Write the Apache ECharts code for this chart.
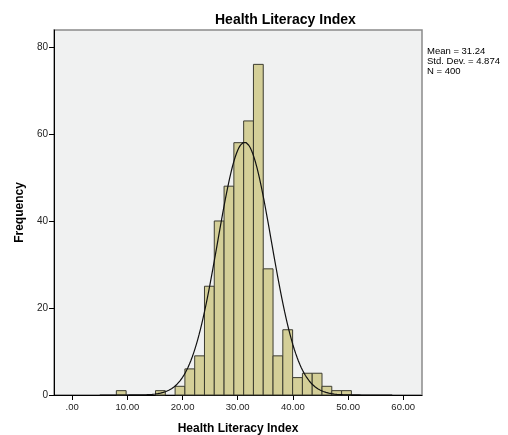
<!DOCTYPE html>
<html><head><meta charset="utf-8">
<script src="https://cdn.jsdelivr.net/npm/echarts@6/dist/echarts.min.js"></script>
<style>html,body{margin:0;padding:0;background:#fff}#c{width:508px;height:435px}</style>
</head><body><div id="c"></div>
<script>
// Histogram bins (lower edge, upper edge) and counts
const binStart = 8.0;
const binWidth = 1.775;
const counts = [1,0,0,0,1,0,2,6,9,25,40,48,58,63,76,29,9,15,4,5,5,2,1,1];
// Stats shown in legend
const mean = 31.24, sd = 4.874, n = 400;
const xTicks = [0,10,20,30,40,50,60];
const yTicks = [0,20,40,60,80];
const titleText = 'Health Literacy Index';
const xTitle = 'Health Literacy Index';
const yTitle = 'Frequency';
const statLines = ['Mean = 31.24','Std. Dev. = 4.874','N = 400'];

const bars = counts.map((c,i)=>[binStart+i*binWidth, binStart+(i+1)*binWidth, c]);
const curve = [];
for (let x=5; x<=58; x+=0.25) {
  const z=(x-mean)/sd;
  curve.push([x, n*binWidth*Math.exp(-0.5*z*z)/(sd*Math.sqrt(2*Math.PI))]);
}
const chart = echarts.init(document.getElementById('c'), null, {renderer:'canvas'});
const font = 'Arial, "Liberation Sans", sans-serif';
chart.setOption({
  animation:false,
  backgroundColor:'#fff',
  title:{text:titleText,left:210,top:8,textStyle:{fontFamily:font,fontSize:14,fontWeight:'bold',color:'#000'}},
  graphic:[
    {type:'text',left:427,top:46,style:{text:statLines.join('\n'),fontFamily:font,fontSize:9.5,lineHeight:10,fill:'#000'}}
  ],
  grid:{left:54,top:30,right:86,bottom:40,containLabel:false,outerBoundsMode:'none',show:true,backgroundColor:'#f0f1f1',borderColor:'#8a8a8a',borderWidth:1.5},
  xAxis:{type:'value',min:-3.3,max:63.4,
    name:xTitle,nameLocation:'middle',nameGap:28,
    nameTextStyle:{fontFamily:font,fontSize:12,fontWeight:'bold',color:'#000'},
    axisLine:{show:true,onZero:false,lineStyle:{color:'#000',width:1}},
    axisTick:{show:true,customValues:xTicks,length:5,lineStyle:{color:'#000'}},
    axisLabel:{customValues:xTicks,fontFamily:font,fontSize:9.5,color:'#222',margin:7,
      formatter:v=>v===0?'.00':v.toFixed(2)},
    splitLine:{show:false}},
  yAxis:{type:'value',min:0,max:83.9,
    name:yTitle,nameLocation:'middle',nameGap:25,nameRotate:90,
    nameTextStyle:{fontFamily:font,fontSize:12,fontWeight:'bold',color:'#000'},
    axisLine:{show:true,onZero:false,lineStyle:{color:'#000',width:1}},
    axisTick:{show:true,customValues:yTicks,length:5,lineStyle:{color:'#000'}},
    axisLabel:{customValues:yTicks,fontFamily:font,fontSize:10,color:'#222',margin:6},
    splitLine:{show:false}},
  series:[
    {type:'custom',data:bars,
      renderItem:(params,api)=>{
        const p0=api.coord([api.value(0),0]);
        const p1=api.coord([api.value(1),api.value(2)]);
        if(api.value(2)<=0) return null;
        return {type:'rect',shape:{x:p0[0],y:p1[1],width:p1[0]-p0[0],height:p0[1]-p1[1]},
          style:{fill:'#d4cf98',stroke:'#3c3c30',lineWidth:1}};
      },
      encode:{x:[0,1],y:2}},
    {type:'line',data:curve,showSymbol:false,smooth:false,
      lineStyle:{color:'#111',width:1.2},z:5}
  ]
});
</script></body></html>
